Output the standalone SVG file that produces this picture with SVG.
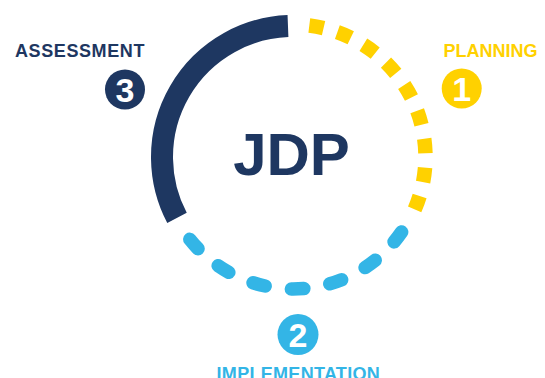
<svg xmlns="http://www.w3.org/2000/svg" width="545" height="378" viewBox="0 0 545 378">
<style>
.lbl{font-family:"Liberation Sans",Arial,sans-serif;font-weight:bold;font-size:18px;text-anchor:middle}
.num{font-family:"Liberation Sans",Arial,sans-serif;font-weight:bold;font-size:34px;text-anchor:middle;fill:#ffffff}
.navy{fill:#1e3761}
.yellow{fill:#ffd100}
.blue{fill:#33b5e6}
</style>
<rect width="545" height="378" fill="#ffffff"/>
<g id="connectors" fill="none">
<path id="arc-assessment" d="M177.01 217.89 A131 131 0 0 1 287.97 26.10" stroke="#1e3761" stroke-width="22"/>
<path id="arc-planning" d="M309.31 25.51 A132.5 132.5 0 0 1 414.66 209.47" stroke="#ffd100" stroke-width="14.5" stroke-dasharray="14.5 14.4"/>
<path id="arc-implementation" d="M401.65 231.95 A132 132 0 0 1 189.84 239.35" stroke="#33b5e6" stroke-width="13.5" stroke-linecap="round" stroke-dasharray="12.5 26.4"/>
</g>
<g id="center">
<text x="291.5" y="175" class="navy" style="font-family:'Liberation Sans',Arial,sans-serif;font-weight:bold;font-size:60px;text-anchor:middle">JDP</text>
</g>
<g id="node-assessment">
<text x="80" y="57" class="lbl navy" letter-spacing="0.6">ASSESSMENT</text>
<circle cx="125" cy="89.5" r="20" class="navy"/>
<text x="125" y="101.5" class="num">3</text>
</g>
<g id="node-planning">
<text x="490.5" y="57" class="lbl yellow">PLANNING</text>
<circle cx="461.7" cy="88.5" r="20" class="yellow"/>
<text x="461.7" y="100.5" class="num">1</text>
</g>
<g id="node-implementation">
<circle cx="298" cy="334.5" r="20.5" class="blue"/>
<text x="298" y="346.5" class="num">2</text>
<text x="298.3" y="379.5" class="lbl blue" letter-spacing="0.3">IMPLEMENTATION</text>
</g>
</svg>
